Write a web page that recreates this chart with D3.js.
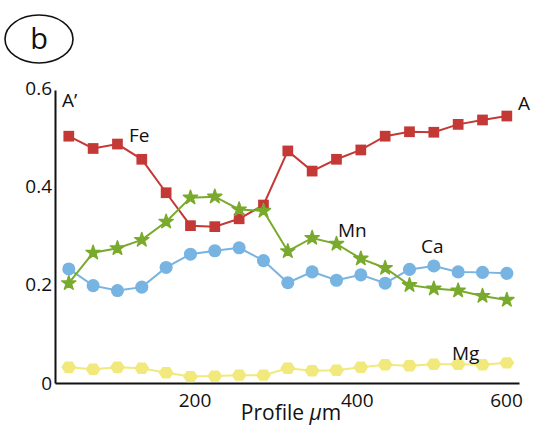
<!DOCTYPE html>
<html>
<head>
<meta charset="utf-8">
<script src="https://cdn.jsdelivr.net/npm/d3@7"></script>
<style>
  body { margin: 0; background: #fff; }
  svg text { font-family: "Open Sans", "Noto Sans", sans-serif; fill: #111; }
</style>
</head>
<body>
<svg id="chart"></svg>
<script>
const WIDTH = 533, HEIGHT = 425;

// profile positions (um)
const positions = [45, 75, 105, 135, 165, 195, 225, 255, 285, 315, 345, 375, 405, 435, 465, 495, 525, 555, 585];

const fe = [0.502, 0.477, 0.486, 0.455, 0.387, 0.320, 0.318, 0.334, 0.362, 0.472, 0.431, 0.455, 0.474, 0.502, 0.511, 0.510, 0.526, 0.535, 0.543];
const mn = [0.203, 0.265, 0.274, 0.291, 0.328, 0.377, 0.379, 0.353, 0.350, 0.268, 0.295, 0.283, 0.253, 0.234, 0.199, 0.192, 0.188, 0.177, 0.169];
const ca = [0.232, 0.198, 0.188, 0.195, 0.235, 0.262, 0.269, 0.275, 0.249, 0.204, 0.226, 0.209, 0.220, 0.203, 0.231, 0.238, 0.226, 0.225, 0.223];
const mg = [0.032, 0.028, 0.032, 0.030, 0.021, 0.013, 0.014, 0.016, 0.016, 0.030, 0.025, 0.026, 0.032, 0.037, 0.035, 0.038, 0.038, 0.037, 0.041];

const xTicks = [200, 400, 600];
const yTicks = [0, 0.2, 0.4, 0.6];

const svg = d3.select("svg#chart")
              .attr("width", WIDTH)
              .attr("height", HEIGHT);

const x = d3.scaleLinear().domain([28, 600]).range([55, 519]);
const y = d3.scaleLinear().domain([0, 0.6]).range([383, 88]);

// panel label
svg.append("ellipse")
    .attr("cx", 39).attr("cy", 39).attr("rx", 34).attr("ry", 24)
    .attr("fill", "none").attr("stroke", "#111").attr("stroke-width", 1.6);
svg.append("text")
    .attr("x", 39).attr("y", 49)
    .attr("text-anchor", "middle")
    .style("font-size", "29px")
    .text("b");

// axes
const xAxis = svg.append("g")
    .attr("transform", `translate(0, ${y(0)})`)
    .call(d3.axisBottom(x).tickValues(xTicks).tickSize(0).tickPadding(11).tickFormat(d3.format("d")));
xAxis.select(".domain").attr("stroke", "#111").attr("stroke-width", 2);
xAxis.selectAll("text")
    .style("font-size", "19px")
    .attr("dx", (d) => d === 600 ? -13 : 0);

const yAxis = svg.append("g")
    .attr("transform", `translate(${x(28)}, 0)`)
    .call(d3.axisLeft(d3.scaleLinear().domain([0, 0.596]).range([y(0), y(0.596)]))
            .tickValues(yTicks).tickSize(0).tickPadding(3)
            .tickFormat((d) => d === 0 ? "0" : d3.format(".1f")(d)));
yAxis.select(".domain").attr("stroke", "#111").attr("stroke-width", 2);
yAxis.selectAll("text").style("font-size", "19px");

const xLabel = svg.append("text")
    .attr("x", 291).attr("y", 420)
    .attr("text-anchor", "middle")
    .style("font-size", "21px");
xLabel.append("tspan").text("Profile ");
xLabel.append("tspan").style("font-style", "italic").text("\u00b5");
xLabel.append("tspan").text("m");

// markers
const hexagon = (r) => {
    const pts = d3.range(6).map((i) => {
        const a = Math.PI / 3 * i;
        return [r * Math.cos(a), r * 0.88 * Math.sin(a)];
    });
    return "M" + pts.join("L") + "Z";
};

const series = [
    { name: "Mg", values: mg, color: "#f1e97c", marker: hexagon(7.5) },
    { name: "Fe", values: fe, color: "#c43936", marker: d3.symbol(d3.symbolSquare, 115)() },
    { name: "Ca", values: ca, color: "#77b4e2", marker: d3.symbol(d3.symbolCircle, 135)() },
    { name: "Mn", values: mn, color: "#79aa2c", marker: d3.symbol(d3.symbolStar, 62)() }
];

const line = d3.line()
    .x((d) => x(d[0]))
    .y((d) => y(d[1]));

series.forEach((s) => {
    const pts = positions.map((p, i) => [p, s.values[i]]);
    const g = svg.append("g").attr("class", "series-" + s.name);
    g.append("path")
        .datum(pts)
        .attr("d", line)
        .attr("fill", "none")
        .attr("stroke", s.color)
        .attr("stroke-width", 2);
    g.selectAll("path.mark")
        .data(pts)
        .join("path")
        .attr("class", "mark")
        .attr("d", s.marker)
        .attr("transform", (d) => `translate(${x(d[0])}, ${y(d[1])})`)
        .attr("fill", s.color)
        .attr("stroke", s.name === "Mn" ? s.color : "none")
        .attr("stroke-width", 1.5)
        .attr("stroke-linejoin", "round");
});

// series and end labels
const labels = [
    { text: "Fe", x: 129, y: 142 },
    { text: "Mn", x: 338, y: 237 },
    { text: "Ca", x: 421, y: 253 },
    { text: "Mg", x: 452, y: 360 },
    { text: "A", x: 518, y: 110 },
    { text: "A\u2019", x: 62, y: 107 }
];
svg.selectAll("text.series-label")
    .data(labels)
    .join("text")
    .attr("class", "series-label")
    .attr("x", (d) => d.x)
    .attr("y", (d) => d.y)
    .style("font-size", "19px")
    .text((d) => d.text);
</script>
</body>
</html>
